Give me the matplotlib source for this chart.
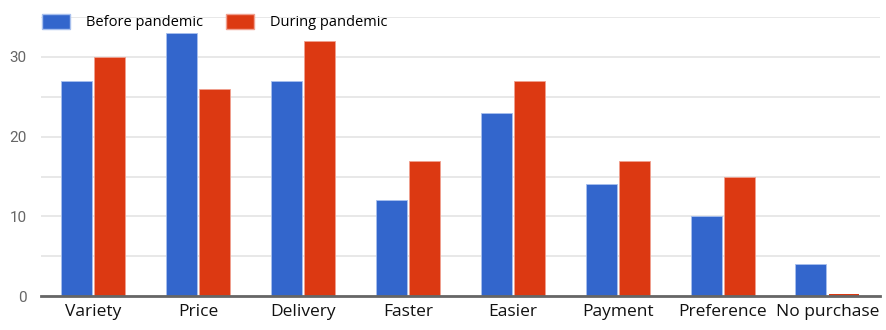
import numpy as np
import matplotlib.pyplot as plt
from matplotlib.patches import Patch

categories = ['Variety', 'Price', 'Delivery', 'Faster', 'Easier', 'Payment', 'Preference', 'No purchase']
before = [27, 33, 27, 12, 23, 14, 10, 4]
during = [30, 26, 32, 17, 27, 17, 15, 0]
series_names = ['Before pandemic', 'During pandemic']
y_ticks = [0, 10, 20, 30]

blue = '#3366cc'
red = '#dc3912'

fig = plt.figure(figsize=(8.87, 3.30), dpi=100)
ax = fig.add_axes([0.046, 0.103, 0.946, 0.845])

x = np.arange(len(categories))
w = 0.295
ax.bar(x - w / 2 - 0.01, before, width=w, color=blue, edgecolor='#a8c0ee', linewidth=0.6, zorder=3)
ax.bar(x + w / 2 + 0.01, during, width=w, color=red, edgecolor='#f0a090', linewidth=0.6, zorder=3)
# tiny stub for the zero bar
ax.bar(x[-1] + w / 2 + 0.01, 0.2, width=w, color=red, zorder=3)

ax.set_xlim(-0.5, len(categories) - 0.5)
ax.set_ylim(0, 35)
ax.set_yticks(np.arange(0, 36, 5), minor=False)
ax.set_yticklabels([str(v) if v in y_ticks else '' for v in np.arange(0, 36, 5)],
                   color='#666666', fontsize=11, family='Roboto')
ax.grid(axis='y', color='#e4e4e4', linewidth=1.2, zorder=0)
ax.set_xticks(x)
ax.set_xticklabels(categories, fontsize=12.5, family='Open Sans', color='#111111')
ax.tick_params(axis='both', length=0, pad=6)
ax.tick_params(axis='y', pad=10)

for s in ['top', 'right', 'left']:
    ax.spines[s].set_visible(False)
ax.spines['bottom'].set_color('#666666')
ax.spines['bottom'].set_linewidth(2)
ax.spines['bottom'].set_zorder(4)

handles = [Patch(facecolor=blue, edgecolor='#a8c0ee'), Patch(facecolor=red, edgecolor='#f0a090')]
fig.legend(handles, series_names, loc='upper left', bbox_to_anchor=(0.033, 0.998), ncol=2,
           frameon=False, prop={'family': 'Open Sans', 'size': 10.5},
           handlelength=1.9, handleheight=1.2, handletextpad=1.1, columnspacing=1.6)

fig.savefig('out.png', dpi=100)
